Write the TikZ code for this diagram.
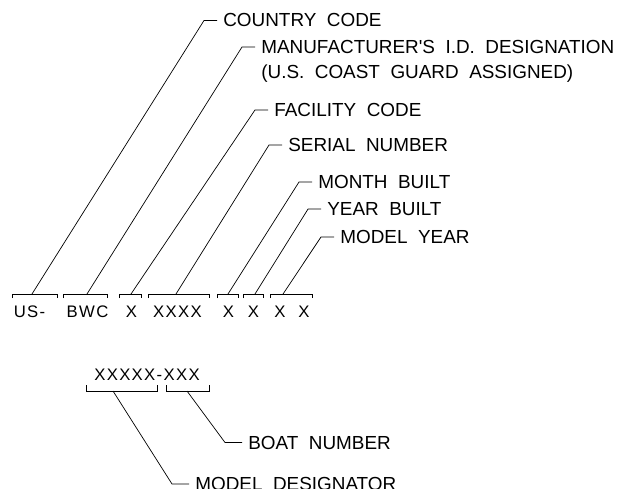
\documentclass[tikz,border=0pt]{standalone}
\usepackage{fontspec}
\setmainfont{Liberation Sans}[WordSpace=2, Ligatures=TeXOff]
\newfontfamily\codefont{Liberation Sans}[LetterSpace=8]

\begin{document}
\begin{tikzpicture}[x=1pt, y=-1pt, line width=0.7pt,
  label/.style={font=\fontsize{18.9}{25}\selectfont, anchor=base west, inner xsep=6pt, inner ysep=0pt},
  code/.style={font=\codefont\fontsize{16.7}{20}\selectfont, anchor=base, inner sep=0pt}]
  \useasboundingbox (0,0) rectangle (631,489);

  % Hull identification number
  \node[code] (us) at (29.5,317) {US-};
  \node[code] (bwc) at (87.5,317) {BWC};
  \node[code] (fac) at (131.5,317) {X};
  \node[code] (ser) at (177.5,317) {XXXX};
  \node[code] (mon) at (228.5,317) {X};
  \node[code] (yr) at (253.5,317) {X};
  \node[code] (mod1) at (280,317) {X};
  \node[code] (mod2) at (304,317) {X};

  % Brackets over the characters
  \foreach \n/\a/\b/\m in {us/12/57/32, bwc/63/107/87, fac/119/141/131, ser/148/209/176,
                           mon/217/238/228, yr/243/263/255, mod/270/312/283} {
    \draw (\a,298) -- (\a,294) -- (\b,294) -- (\b,298);
    \coordinate (br-\n) at (\m,294);
  }

  % Labels
  \node[label] (country) at (217,27) {COUNTRY CODE};
  \node[label] (manuf) at (255,53.5) {MANUFACTURER'S I.D. DESIGNATION};
  \node[label] (manufb) at (255,78.5) {(U.S. COAST GUARD ASSIGNED)};
  \node[label] (facility) at (268,116.5) {FACILITY CODE};
  \node[label] (serial) at (282,151.5) {SERIAL NUMBER};
  \node[label] (month) at (312,188.5) {MONTH BUILT};
  \node[label] (year) at (321,215.5) {YEAR BUILT};
  \node[label] (modyear) at (334,243.5) {MODEL YEAR};

  % Leaders
  \foreach \n/\lbl in {us/country, bwc/manuf, fac/facility, ser/serial,
                       mon/month, yr/year, mod/modyear}
    \draw (br-\n) -- ([xshift=-13pt]\lbl.west) -- (\lbl.west);

  % Model number
  \node[code] (model) at (147,380) {XXXXX-XXX};
  \draw (86,385) -- (86,391) -- (157,391) -- (157,385);
  \coordinate (br-desig) at (113,391);
  \draw (166,385) -- (166,391) -- (209,391) -- (209,385);
  \coordinate (br-boat) at (187,391);

  \node[label] (boat) at (242,449) {BOAT NUMBER};
  \node[label] (desig) at (189,490.5) {MODEL DESIGNATOR};

  \draw (br-boat) -- ([xshift=-17pt]boat.west) -- (boat.west);
  \draw (br-desig) -- ([xshift=-17pt]desig.west) -- (desig.west);
\end{tikzpicture}
\end{document}
